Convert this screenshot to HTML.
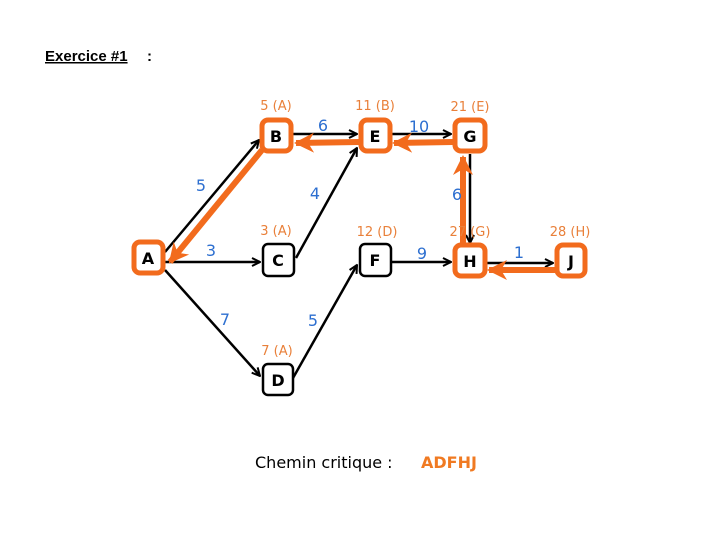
<!DOCTYPE html>
<html><head><meta charset="utf-8"><style>
html,body{margin:0;padding:0;background:#fff;width:720px;height:540px;overflow:hidden}
svg{display:block}
.t{font-family:"DejaVu Sans","Liberation Sans",sans-serif}
</style></head><body>
<svg width="720" height="540" viewBox="0 0 720 540" xmlns="http://www.w3.org/2000/svg">
<defs>
<marker id="ab" markerWidth="10" markerHeight="10" refX="9" refY="5" orient="auto" markerUnits="userSpaceOnUse"><path d="M1,1 L9,5 L1,9" fill="none" stroke="#000" stroke-width="2"/></marker>
<marker id="ao" markerWidth="22" markerHeight="22" refX="18" refY="11" orient="auto" markerUnits="userSpaceOnUse"><path d="M0,1 L20,11 L0,21 L6,11 Z" fill="#f26b1d"/></marker>
</defs>
<text x="45" y="61" class="t" font-family="Liberation Sans" font-weight="bold" font-size="15" text-decoration="underline" style="font-family:'Liberation Sans',sans-serif">Exercice #1</text>
<text x="147" y="61" font-weight="bold" font-size="15" style="font-family:'Liberation Sans',sans-serif">:</text>

<!-- black arrows -->
<g stroke="#000" stroke-width="2.5" fill="none" marker-end="url(#ab)">
<line x1="165" y1="252" x2="259" y2="140"/>
<line x1="293" y1="134" x2="357" y2="134"/>
<line x1="392" y1="134" x2="451" y2="134"/>
<line x1="470" y1="154" x2="470" y2="243"/>
<line x1="165" y1="262" x2="260" y2="262"/>
<line x1="296" y1="258" x2="357" y2="148"/>
<line x1="165" y1="270" x2="260" y2="376"/>
<line x1="293" y1="378" x2="357" y2="265"/>
<line x1="391" y1="262" x2="451" y2="262"/>
<line x1="487" y1="263" x2="553" y2="263"/>
</g>
<!-- orange critical path -->
<g stroke="#f26b1d" stroke-width="6" fill="none" marker-end="url(#ao)">
<line x1="262" y1="150" x2="170" y2="262"/>
<line x1="359" y1="142" x2="296" y2="143"/>
<line x1="453" y1="142" x2="394" y2="143"/>
<line x1="463" y1="245" x2="463" y2="157"/>
<line x1="555" y1="270" x2="489" y2="270"/>
</g>

<!-- nodes -->
<g stroke="#f26b1d" stroke-width="5" fill="#fff">
<rect x="134" y="242" width="29" height="31" rx="6"/>
<rect x="262" y="120" width="29" height="31" rx="6"/>
<rect x="361" y="120" width="29" height="31" rx="6"/>
<rect x="455" y="120" width="30" height="31" rx="6"/>
<rect x="455" y="245" width="30" height="31" rx="6"/>
<rect x="557" y="245" width="28" height="31" rx="6"/>
</g>
<g stroke="#000" stroke-width="2.5" fill="#fff">
<rect x="263" y="244" width="31" height="32" rx="5"/>
<rect x="360" y="244" width="31" height="32" rx="5"/>
<rect x="263" y="364" width="30" height="31" rx="5"/>
</g>
<g font-weight="bold" font-size="16" text-anchor="middle" style="font-family:'DejaVu Sans',sans-serif">
<text x="148" y="264">A</text>
<text x="276" y="142">B</text>
<text x="375" y="142">E</text>
<text x="470" y="142">G</text>
<text x="470" y="267">H</text>
<text x="571" y="267">J</text>
<text x="278" y="266">C</text>
<text x="375" y="266">F</text>
<text x="278" y="386">D</text>
</g>
<!-- orange labels -->
<g fill="#e9803a" font-size="13" text-anchor="middle" style="font-family:'DejaVu Sans',sans-serif">
<text x="276" y="110">5 (A)</text>
<text x="375" y="110">11 (B)</text>
<text x="470" y="111">21 (E)</text>
<text x="276" y="235">3 (A)</text>
<text x="377" y="236">12 (D)</text>
<text x="470" y="236">27 (G)</text>
<text x="570" y="236">28 (H)</text>
<text x="277" y="355">7 (A)</text>
</g>
<!-- blue weights -->
<g fill="#2d6fd0" font-size="16" text-anchor="middle" style="font-family:'DejaVu Sans',sans-serif">
<text x="201" y="191">5</text>
<text x="323" y="131">6</text>
<text x="419" y="132">10</text>
<text x="315" y="199">4</text>
<text x="457" y="200">6</text>
<text x="211" y="256">3</text>
<text x="422" y="259">9</text>
<text x="519" y="258">1</text>
<text x="225" y="325">7</text>
<text x="313" y="326">5</text>
</g>
<text x="255" y="468" font-size="16" style="font-family:'DejaVu Sans',sans-serif">Chemin critique :</text>
<text x="421" y="468" font-size="16" font-weight="bold" fill="#f07a22" style="font-family:'DejaVu Sans',sans-serif">ADFHJ</text>
</svg>
</body></html>
